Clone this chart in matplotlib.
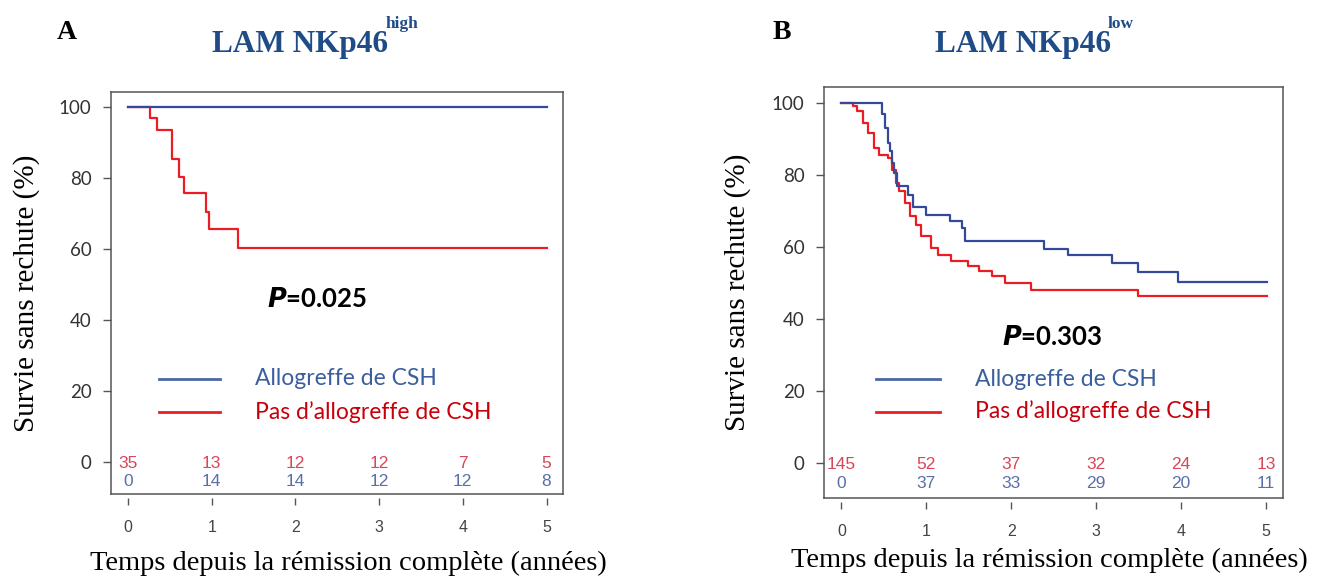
import matplotlib
matplotlib.use("Agg")
import matplotlib.pyplot as plt

W, H = 1319, 579

# time points (years) and relapse-free survival (%)
a_blue_t = [0, 5.0]
a_blue_v = [100, 100]
a_red_t = [0, 0.26, 0.35, 0.53, 0.61, 0.67, 0.93, 0.97, 1.32, 5.0]
a_red_v = [100, 96.8, 93.4, 85.4, 80.3, 75.7, 70.5, 65.5, 60.4, 60.4]

b_blue_t = [0, 0.48, 0.51, 0.55, 0.57, 0.60, 0.62, 0.65, 0.79, 0.84, 1.00,
            1.28, 1.42, 1.46, 2.38, 2.67, 3.19, 3.49, 3.96, 5.01]
b_blue_v = [100, 97.0, 93.1, 88.9, 86.6, 83.5, 80.5, 76.9, 74.6, 71.3, 69.0,
            67.2, 65.3, 61.8, 59.6, 57.9, 55.6, 53.1, 50.5, 50.5]
b_red_t = [0, 0.14, 0.18, 0.25, 0.31, 0.38, 0.44, 0.55, 0.60, 0.64, 0.68,
           0.75, 0.81, 0.88, 0.94, 1.05, 1.14, 1.29, 1.49, 1.62, 1.77, 1.93,
           2.23, 3.49, 5.01]
b_red_v = [100, 99.3, 97.7, 94.5, 91.7, 87.6, 85.7, 84.8, 81.5, 77.8, 75.5,
           72.3, 68.6, 66.3, 63.0, 59.8, 57.9, 56.1, 54.7, 53.3, 51.9, 50.1,
           48.2, 46.5, 46.5]

# numbers at risk
years = [0, 1, 2, 3, 4, 5]
a_risk_red = [35, 13, 12, 12, 7, 5]
a_risk_blue = [0, 14, 14, 12, 12, 8]
b_risk_red = [145, 52, 37, 32, 24, 13]
b_risk_blue = [0, 37, 33, 29, 20, 11]

yticks = [0, 20, 40, 60, 80, 100]
legend_labels = ["Allogreffe de CSH", "Pas d\u2019allogreffe de CSH"]

BLUE = "#35499a"
RED = "#ec1c24"
BLUE_TXT = "#3b5f9e"
RED_TXT = "#c8000c"
RISK_RED = "#d8465a"
RISK_BLUE = "#5b6fa6"
BOX = "#555555"
SERIF = "Liberation Serif"
SANS = "Lato"


def px_box(left, top, right, bottom):
    return [left / W, 1 - bottom / H, (right - left) / W, (bottom - top) / H]


def fx(x):
    return x / W


def fy(y):
    return 1 - y / H


def km_panel(ax, red_t, red_v, blue_t, blue_v, risk_red, risk_blue,
             xlim, ylim, p_text, p_xy, leg_x, leg_y, text_x):
    ax.step(red_t, red_v, where="post", color=RED, lw=1.6)
    ax.step(blue_t, blue_v, where="post", color=BLUE, lw=1.6)
    ax.set_xlim(xlim)
    ax.set_ylim(ylim)

    for s in ["top", "left", "right"]:
        ax.spines[s].set_color(BOX)
        ax.spines[s].set_linewidth(1.1)
    # R-style axis: ticks start a little under the box
    ax.spines["bottom"].set_position(("outward", 3))
    ax.spines["bottom"].set_visible(False)
    ax.plot([0, 1], [0, 0], transform=ax.transAxes, color=BOX, lw=1.1,
            clip_on=False)

    ax.set_yticks(yticks)
    ax.set_xticks(years)
    ax.tick_params(axis="y", direction="out", length=6, width=1, color=BOX,
                   pad=8, labelsize=13.5, labelcolor="#333333")
    ax.tick_params(axis="x", direction="out", length=5, width=1, color=BOX,
                   pad=11, labelsize=11.5, labelcolor="#444444")
    for lab in ax.get_yticklabels():
        lab.set_fontfamily(SANS)
    for lab in ax.get_xticklabels():
        lab.set_fontfamily("Liberation Sans")

    for x, r, b in zip(years, risk_red, risk_blue):
        ax.text(x, -0.4, str(r), color=RISK_RED, fontsize=12.5, ha="center",
                va="center", family="Liberation Sans")
        ax.text(x, -5.6, str(b), color=RISK_BLUE, fontsize=12.5, ha="center",
                va="center", family="Liberation Sans")

    ax.text(p_xy[0], p_xy[1], p_text, fontsize=18.5, fontweight="bold",
            ha="center", va="center", family=SANS, color="black")

    ax.plot(leg_x, [leg_y[0]] * 2, color="#4a68a6", lw=2)
    ax.plot(leg_x, [leg_y[1]] * 2, color=RED, lw=2)
    ax.text(text_x, leg_y[0], legend_labels[0], color=BLUE_TXT, fontsize=16.5,
            va="center", family=SANS)
    ax.text(text_x, leg_y[1], legend_labels[1], color=RED_TXT, fontsize=16.5,
            va="center", family=SANS)


fig = plt.figure(figsize=(W / 100, H / 100), dpi=100)

ax_a = fig.add_axes(px_box(111, 92, 563, 494))
km_panel(ax_a, a_red_t, a_red_v, a_blue_t, a_blue_v, a_risk_red, a_risk_blue,
         (-0.203, 5.197), (-9.0, 104.2), "$\\mathbfit{P}$=0.025", (2.26, 45.9),
         [0.37, 1.10], [23.4, 14.1], 1.52)

ax_b = fig.add_axes(px_box(824, 87, 1283, 498))
km_panel(ax_b, b_red_t, b_red_v, b_blue_t, b_blue_v, b_risk_red, b_risk_blue,
         (-0.205, 5.20), (-9.6, 104.5), "$\\mathbfit{P}$=0.303", (2.48, 35.2),
         [0.41, 1.16], [23.4, 14.4], 1.57)

# y labels
fig.text(fx(27), fy(293), "Survie sans rechute (%)", rotation=90,
         ha="center", va="center", fontsize=21, family=SERIF)
fig.text(fx(738), fy(292), "Survie sans rechute (%)", rotation=90,
         ha="center", va="center", fontsize=21, family=SERIF)

# x labels
fig.text(fx(348), fy(563), "Temps depuis la r\u00e9mission compl\u00e8te (ann\u00e9es)",
         ha="center", va="center", fontsize=20.5, family=SERIF)
fig.text(fx(1049), fy(560), "Temps depuis la r\u00e9mission compl\u00e8te (ann\u00e9es)",
         ha="center", va="center", fontsize=20.5, family=SERIF)

# panel letters and titles
TITLE = "#1f4b87"
fig.text(fx(57), fy(39), "A", fontsize=20, fontweight="bold", family=SERIF,
         va="baseline")
fig.text(fx(773), fy(39), "B", fontsize=20, fontweight="bold", family=SERIF,
         va="baseline")
fig.text(fx(212), fy(52), "LAM NKp46", fontsize=22.5, fontweight="bold",
         family=SERIF, color=TITLE, va="baseline")
fig.text(fx(386), fy(28), "high", fontsize=12.5, fontweight="bold",
         family=SERIF, color=TITLE, va="baseline")
fig.text(fx(935), fy(52), "LAM NKp46", fontsize=22.5, fontweight="bold",
         family=SERIF, color=TITLE, va="baseline")
fig.text(fx(1108), fy(28), "low", fontsize=12.5, fontweight="bold",
         family=SERIF, color=TITLE, va="baseline")

fig.savefig("out.png", dpi=100)
